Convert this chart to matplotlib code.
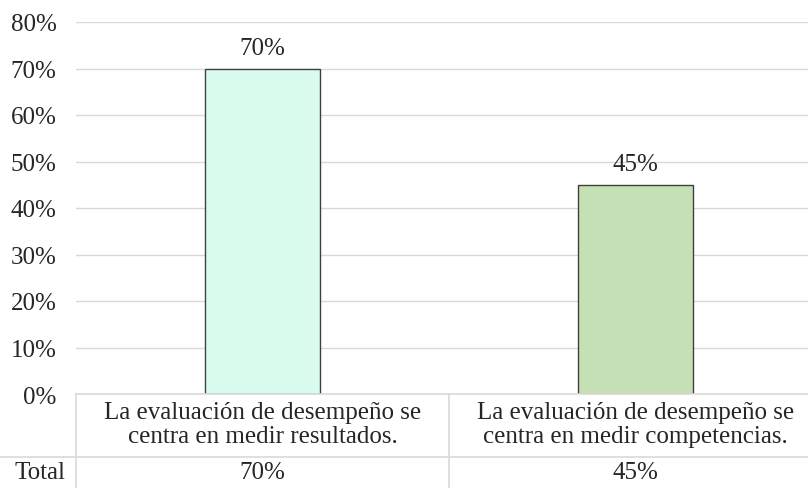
import matplotlib.pyplot as plt
from matplotlib.lines import Line2D
from matplotlib.ticker import PercentFormatter

categories = ["La evaluación de desempeño se\ncentra en medir resultados.",
              "La evaluación de desempeño se\ncentra en medir competencias."]
values = [0.70, 0.45]
labels = ["70%", "45%"]
bar_colors = ["#dafcef", "#c5e0b4"]
row_name = "Total"

plt.rcParams['font.family'] = ['Liberation Serif', 'DejaVu Serif']
FS = 18
GRID = "#d9d9d9"
TXT = "#262626"

W, H = 808, 489
fig = plt.figure(figsize=(W / 100, H / 100), dpi=100)
# axes reaches a bit past the right edge, like the original
left, right, top, bottom = 76, 822, 23, 395
ax = fig.add_axes([left / W, 1 - bottom / H, (right - left) / W, (bottom - top) / H])

x = list(range(len(values)))
ax.bar(x, values, width=0.31, color=bar_colors, edgecolor="#404040", linewidth=1, zorder=3)
for xi, v, lab in zip(x, values, labels):
    ax.annotate(lab, (xi, v), xytext=(0, 7), textcoords="offset points",
                ha="center", va="bottom", fontsize=FS, color=TXT)

ax.set_xlim(-0.5, 1.5)
ax.set_ylim(0, 0.8)
ax.set_yticks([i / 10 for i in range(9)])
ax.yaxis.set_major_formatter(PercentFormatter(1.0, decimals=0))
ax.tick_params(axis="y", length=0, pad=14, labelsize=FS, labelcolor=TXT)
ax.set_xticks([])
ax.grid(axis="y", color=GRID, linewidth=1, zorder=0)
for s in ax.spines.values():
    s.set_visible(False)

# data table under the plot
def hline(y, x0, x1):
    fig.add_artist(Line2D([x0 / W, x1 / W], [1 - y / H, 1 - y / H], color=GRID, lw=1.2))

def vline(xp, y0, y1):
    fig.add_artist(Line2D([xp / W, xp / W], [1 - y0 / H, 1 - y1 / H], color=GRID, lw=1.2))

row_y = 458
hline(bottom, left, W)
hline(row_y, 0, W)
vline(left, bottom, H)
vline(449, bottom, H)

trans = ax.get_xaxis_transform()
for xi, cat, lab in zip(x, categories, labels):
    ax.text(xi, -(425 - bottom) / (bottom - top), cat, transform=trans, ha="center", va="center",
            fontsize=FS, color=TXT, linespacing=1.15, clip_on=False)
    ax.text(xi, -(473 - bottom) / (bottom - top), lab, transform=trans, ha="center", va="center",
            fontsize=FS, color=TXT, clip_on=False)
fig.text(40 / W, 1 - 473 / H, row_name, ha="center", va="center", fontsize=FS, color=TXT)

fig.savefig("out.png", dpi=100)
